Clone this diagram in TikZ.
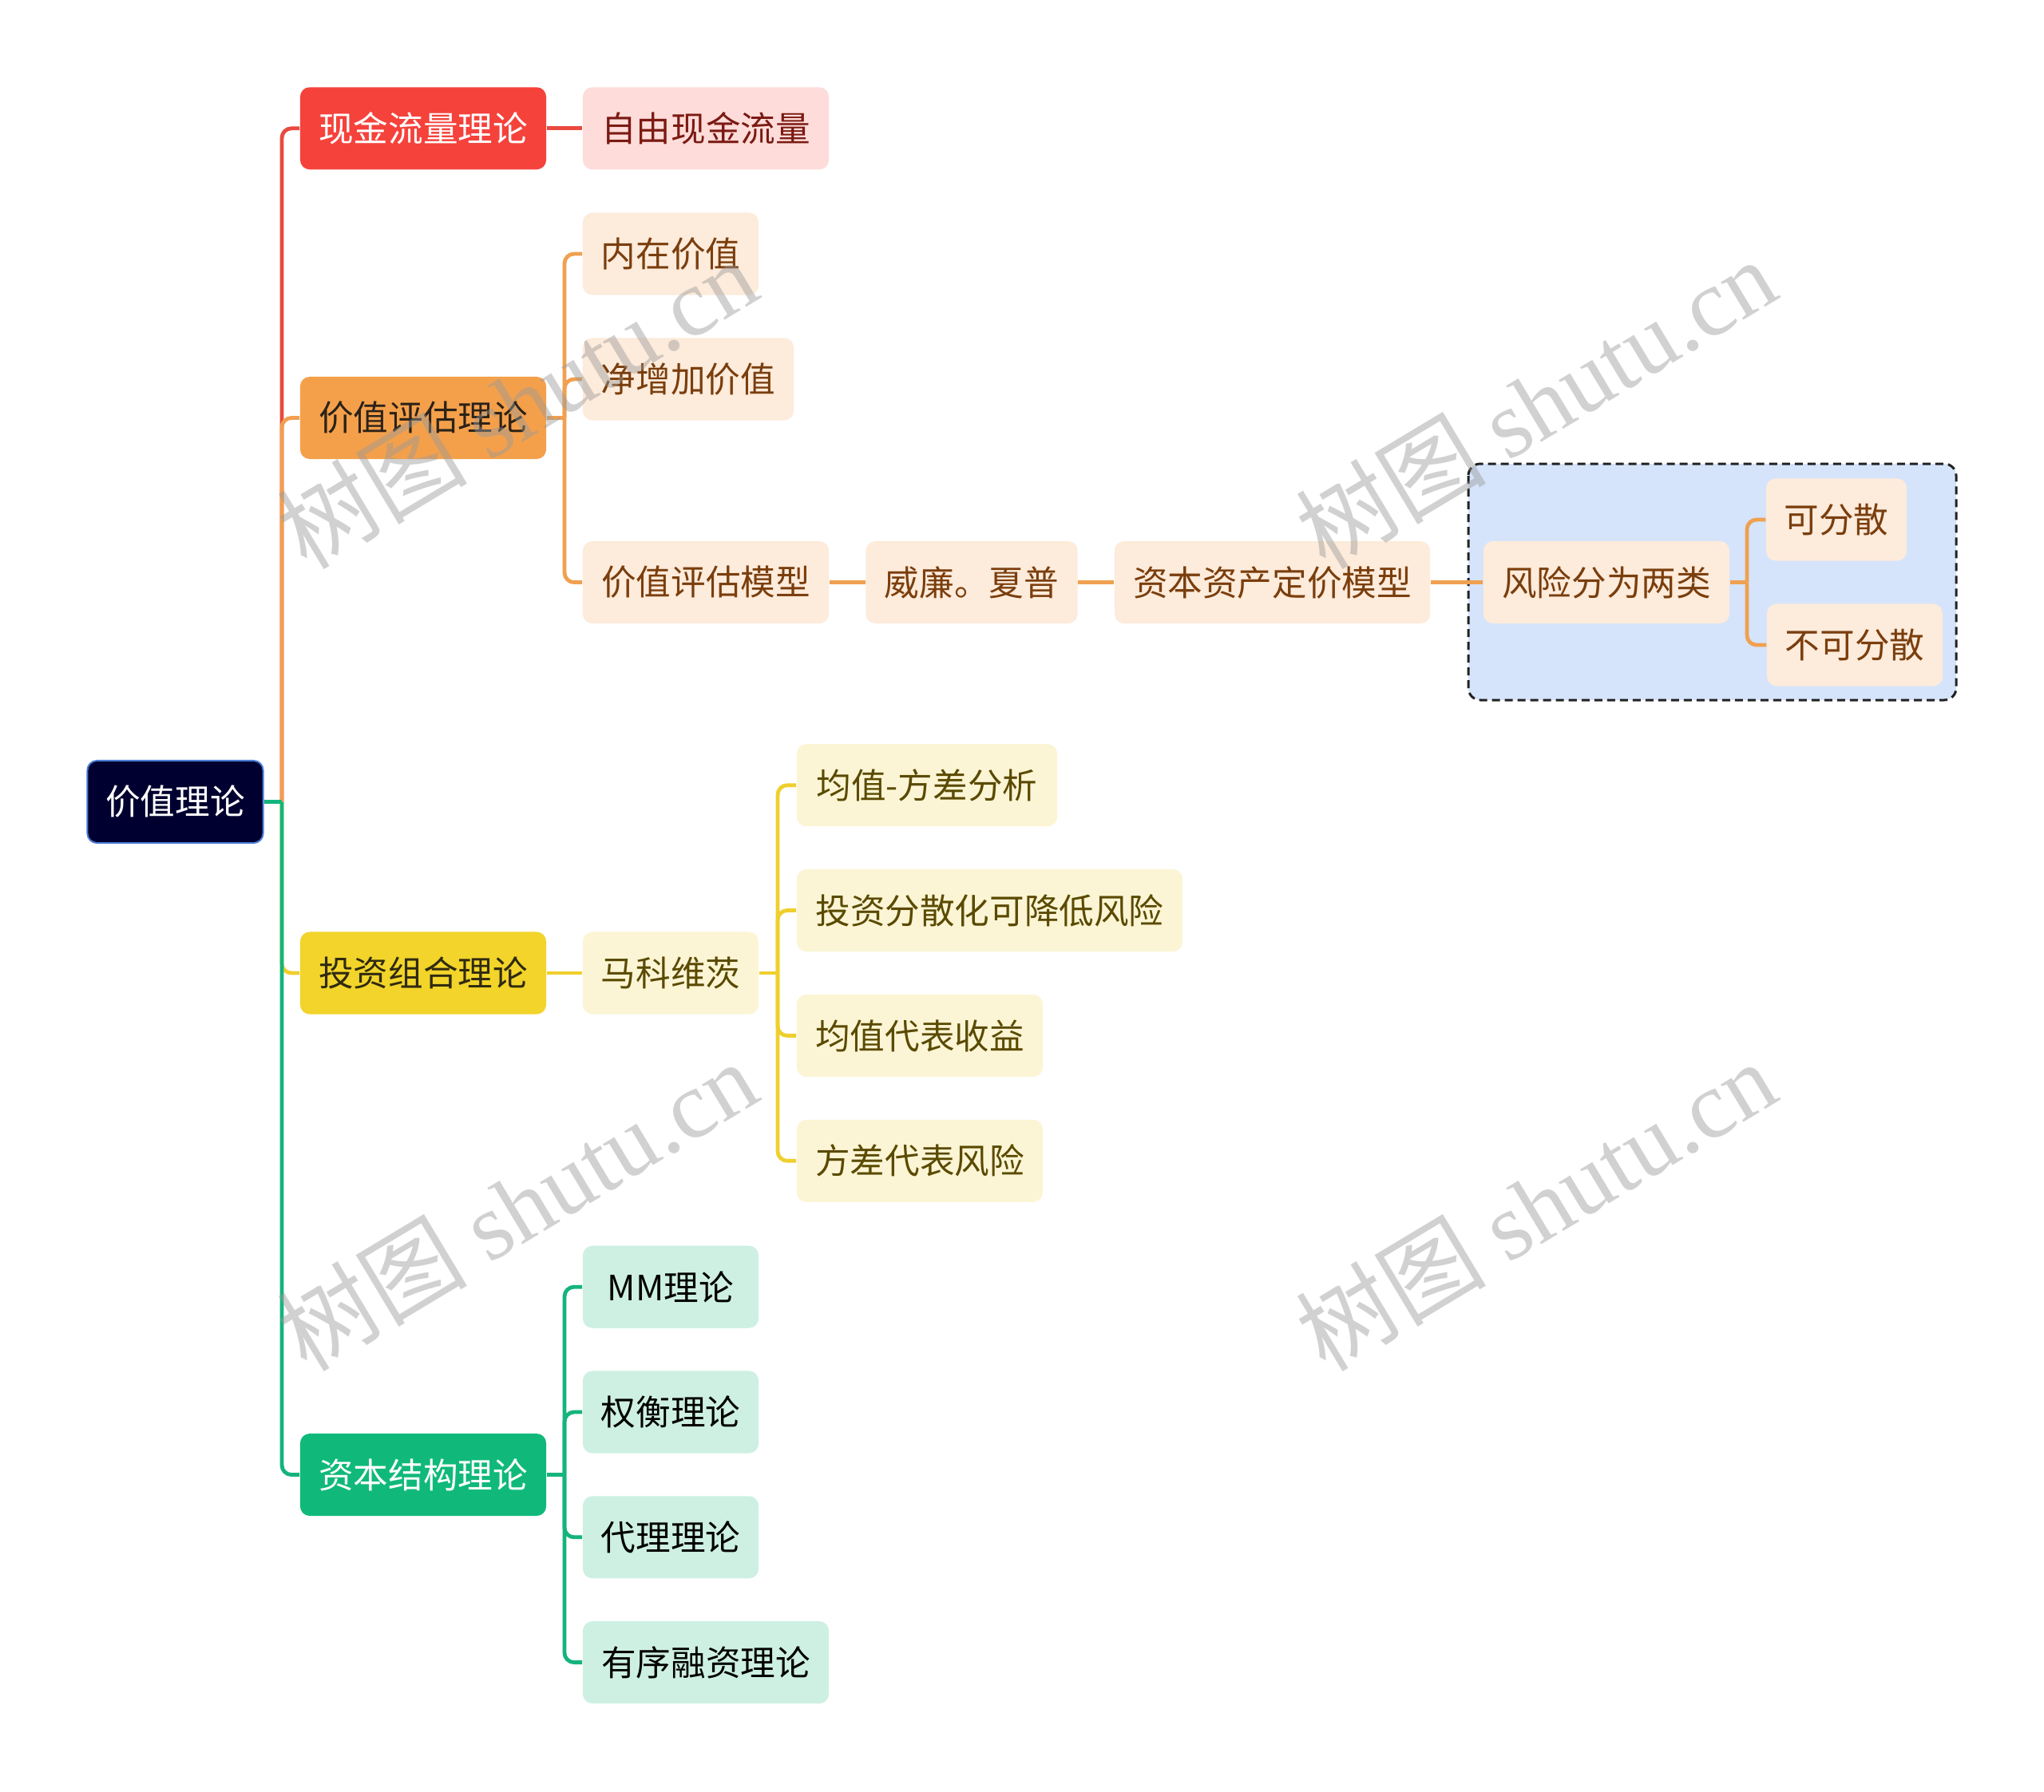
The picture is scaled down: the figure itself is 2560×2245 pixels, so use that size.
\documentclass[tikz,border=0pt]{standalone}
\usepackage{fontspec}
\newfontfamily\cjk{Noto Sans CJK SC}
\newfontfamily\wmserif{Liberation Serif}
\definecolor{rootfill}{HTML}{000030}
\definecolor{rootborder}{HTML}{4A7BD4}
\definecolor{redmain}{HTML}{F5423B}
\definecolor{redlight}{HTML}{FDDCDA}
\definecolor{redtext}{HTML}{7B1A12}
\definecolor{redline}{HTML}{E9493F}
\definecolor{orgmain}{HTML}{F4A04B}
\definecolor{orglight}{HTML}{FDEBDB}
\definecolor{orgtext}{HTML}{7A3E0D}
\definecolor{orgdark}{HTML}{2C2218}
\definecolor{orgline}{HTML}{F0A050}
\definecolor{yelmain}{HTML}{F2D42A}
\definecolor{yellight}{HTML}{FCF5D5}
\definecolor{yeltext}{HTML}{5A4A00}
\definecolor{yeldark}{HTML}{2F2A10}
\definecolor{yelline}{HTML}{EFCF2E}
\definecolor{grnmain}{HTML}{10B97A}
\definecolor{grnlight}{HTML}{CDF0E2}
\definecolor{grnline}{HTML}{14B47C}
\definecolor{groupfill}{HTML}{D5E4FB}
\definecolor{groupborder}{HTML}{222222}
\definecolor{wmgray}{HTML}{9A9A9A}
\begin{document}
\begin{tikzpicture}[x=0.01cm,y=-0.01cm,
  box/.style={rounded corners=0.12cm, inner sep=0pt, minimum height=1.03cm,
    font=\cjk\fontsize{12.4pt}{14pt}\selectfont, anchor=center},
  rootbox/.style={box, fill=rootfill, draw=rootborder, line width=0.02cm, text=white},
  redA/.style={box, fill=redmain, text=white},
  redB/.style={box, fill=redlight, text=redtext},
  orgA/.style={box, fill=orgmain, text=orgdark},
  orgB/.style={box, fill=orglight, text=orgtext},
  yelA/.style={box, fill=yelmain, text=yeldark},
  yelB/.style={box, fill=yellight, text=yeltext},
  grnA/.style={box, fill=grnmain, text=white},
  grnB/.style={box, fill=grnlight, text=black},
  link/.style={line width=0.048cm, rounded corners=0.12cm},
  redlink/.style={link, draw=redline},
  orglink/.style={link, draw=orgline},
  yellink/.style={link, draw=yelline},
  grnlink/.style={link, draw=grnline},
  wmark/.style={rotate=31, text=wmgray, text opacity=0.45, inner sep=0pt,
    font=\fontsize{34pt}{38pt}\selectfont}
]
\useasboundingbox (0,0) rectangle (2560,2245);
\fill[white] (0,0) rectangle (2560,2245);

% group box
\draw[fill=groupfill, draw=groupborder, line width=0.03cm, dash pattern=on 0.1cm off 0.06cm, rounded corners=0.15cm] (1839,581) rectangle (2450,877);

% nodes
\node[rootbox, minimum width=2.2cm] (root) at (219.5,1004.5) {价值理论};

\node[redA, minimum width=3.08cm] (c1) at (530,160.8) {现金流量理论};
\node[orgA, minimum width=3.08cm] (c2) at (530,523.5) {价值评估理论};
\node[yelA, minimum width=3.08cm] (c3) at (530,1219) {投资组合理论};
\node[grnA, minimum width=3.08cm] (c4) at (530,1847.5) {资本结构理论};

\node[redB, minimum width=3.08cm] (r1) at (884,160.8) {自由现金流量};

\node[orgB, minimum width=2.2cm] (o1) at (840,318) {内在价值};
\node[orgB, minimum width=2.64cm] (o2) at (862,475) {净增加价值};
\node[orgB, minimum width=3.08cm] (o3) at (884,729.5) {价值评估模型};
\node[orgB, minimum width=2.65cm] (o4) at (1217,729.5) {威廉。夏普};
\node[orgB, minimum width=3.95cm] (o5) at (1593.5,729.5) {资本资产定价模型};
\node[orgB, minimum width=3.08cm] (o6) at (2012,729.5) {风险分为两类};
\node[orgB, minimum width=1.76cm] (o7) at (2300,651) {可分散};
\node[orgB, minimum width=2.2cm] (o8) at (2323,808) {不可分散};

\node[yelB, minimum width=2.2cm] (y1) at (840,1219) {马科维茨};
\node[yelB, minimum width=3.26cm] (y2) at (1161,983.7) {均值-方差分析};
\node[yelB, minimum width=4.83cm] (y3) at (1239.5,1140.5) {投资分散化可降低风险};
\node[yelB, minimum width=3.08cm] (y4) at (1152,1297.5) {均值代表收益};
\node[yelB, minimum width=3.08cm] (y5) at (1152,1454.3) {方差代表风险};

\node[grnB, minimum width=2.2cm] (g1) at (840,1612.2) {MM理论};
\node[grnB, minimum width=2.2cm] (g2) at (840,1769) {权衡理论};
\node[grnB, minimum width=2.2cm] (g3) at (840,1925.8) {代理理论};
\node[grnB, minimum width=3.08cm] (g4) at (884,2082.6) {有序融资理论};

% spine coordinates
\coordinate (s0) at (353,1004.5);
\coordinate (so) at (707,523.5);
\coordinate (sy) at (974,1219);
\coordinate (sg) at (707,1847.5);
\coordinate (sr) at (2188,729.5);

% main branches
\draw[redlink] (s0) |- (c1.west);
\draw[orglink] (s0) |- (c2.west);
\draw[yellink] (s0) |- (c3.west);
\draw[grnlink] (s0) |- (c4.west);
\draw[grnlink] (root.east) -- (s0);

% red
\draw[redlink] (c1.east) -- (r1.west);

% orange
\draw[orglink] (c2.east) -- (so);
\draw[orglink] (so) |- (o1.west);
\draw[orglink] (so) |- (o2.west);
\draw[orglink] (so) |- (o3.west);
\draw[orglink] (o3.east) -- (o4.west);
\draw[orglink] (o4.east) -- (o5.west);
\draw[orglink] (o5.east) -- (o6.west);
\draw[orglink] (o6.east) -- (sr);
\draw[orglink] (sr) |- (o7.west);
\draw[orglink] (sr) |- (o8.west);

% yellow
\draw[yellink] (c3.east) -- (y1.west);
\draw[yellink] (y1.east) -- (sy);
\draw[yellink] (sy) |- (y2.west);
\draw[yellink] (sy) |- (y3.west);
\draw[yellink] (sy) |- (y4.west);
\draw[yellink] (sy) |- (y5.west);

% green
\draw[grnlink] (c4.east) -- (sg);
\draw[grnlink] (sg) |- (g1.west);
\draw[grnlink] (sg) |- (g2.west);
\draw[grnlink] (sg) |- (g3.west);
\draw[grnlink] (sg) |- (g4.west);

% watermarks
\node[wmark] (w1) at (647,505) {\cjk 树图\ \wmserif shutu.cn};
\node[wmark] (w2) at (1923,505) {\cjk 树图\ \wmserif shutu.cn};
\node[wmark] (w3) at (647,1510) {\cjk 树图\ \wmserif shutu.cn};
\node[wmark] (w4) at (1923,1510) {\cjk 树图\ \wmserif shutu.cn};
\end{tikzpicture}
\end{document}
